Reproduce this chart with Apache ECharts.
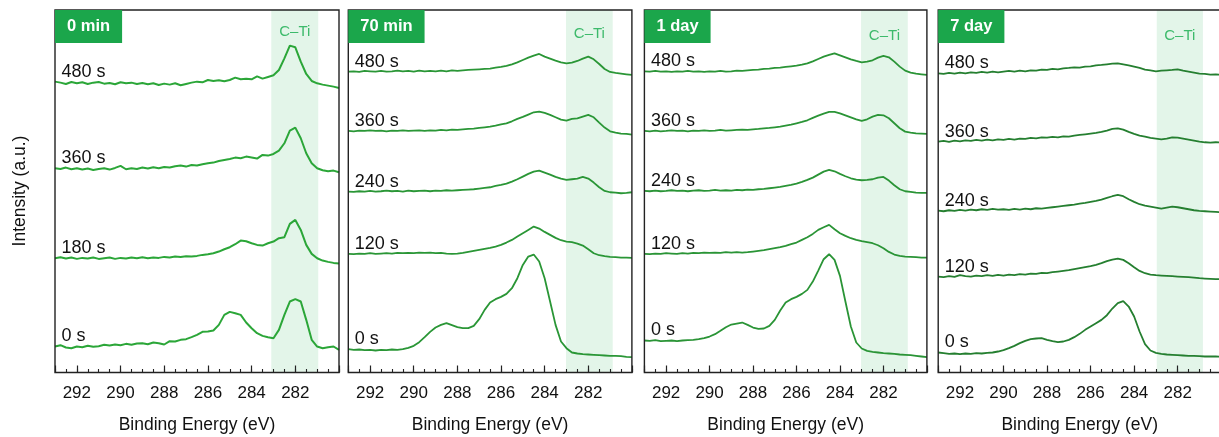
<!DOCTYPE html>
<html>
<head>
<meta charset="utf-8">
<title>C 1s XPS depth profiles</title>
<script src="https://cdn.jsdelivr.net/npm/echarts@6/dist/echarts.min.js"></script>
<style>
  html, body { margin: 0; padding: 0; background: #fff; }
  #chart { width: 1219px; height: 437px; }
</style>
</head>
<body>
<div id="chart"></div>
<script>
// Binding energy grid (eV), shared by every spectrum
const energy = [293, 292.75, 292.5, 292.25, 292, 291.75, 291.5, 291.25, 291, 290.75, 290.5, 290.25, 290,
  289.75, 289.5, 289.25, 289, 288.75, 288.5, 288.25, 288, 287.75, 287.5, 287.25, 287, 286.75, 286.5, 286.25,
  286, 285.75, 285.5, 285.25, 285, 284.75, 284.5, 284.25, 284, 283.75, 283.5, 283.25, 283, 282.75, 282.5,
  282.25, 282, 281.75, 281.5, 281.25, 281, 280.75, 280.5, 280.25, 280];

// Panel titles and sputter-time labels
const panelTitles = ['0 min', '70 min', '1 day', '7 day'];
const sputter0 = ['480 s', '360 s', '180 s', '0 s'];
const sputterN = ['480 s', '360 s', '240 s', '120 s', '0 s'];
const xTicks = [292, 290, 288, 286, 284, 282];
const bandLabel = 'C–Ti';
const bandFrom = [283.1, 283.02, 283.03, 282.96];
const bandTo = [280.95, 280.88, 280.88, 280.84];

// Stacked intensities (a.u.) — 0 min
const min0_480 = [873,870,866,872,868,871,866,870,872,867,869,865,871,868,870,866,869,865,868,863,867,864,868,862,866,870,873,871,878,875,877,874,878,885,880,882,880,889,882,887,892,908,943,981,976,933,896,875,868,864,861,858,854];
const min0_360 = [613,611,615,610,613,609,612,608,611,613,609,614,620,610,613,611,615,612,616,613,617,615,619,621,618,623,621,625,628,630,635,638,641,645,643,648,645,642,653,651,656,666,688,726,735,703,658,628,613,607,604,606,601];
const min0_180 = [343,346,342,345,341,344,342,345,341,343,345,341,344,342,345,343,346,343,345,344,347,345,348,347,349,348,350,353,355,358,363,370,376,385,396,394,388,383,381,388,393,403,406,446,458,428,383,356,343,336,332,329,327];
const min0_0 = [78,82,75,73,78,76,80,77,79,83,81,84,82,86,83,87,88,85,90,88,84,94,93,98,100,106,113,122,123,126,143,173,182,178,173,150,133,118,110,106,103,128,173,213,220,213,158,98,78,73,76,78,68];

// 70 min
const min70_480 = [903,904,902,905,904,903,905,903,904,906,904,905,903,906,904,905,904,906,904,907,905,907,908,909,910,911,912,915,917,920,925,931,938,945,951,956,948,942,936,931,928,930,935,942,948,940,926,911,902,899,897,895,893];
const min70_360 = [725,724,726,725,727,725,726,724,726,725,727,725,726,727,725,727,726,728,727,729,728,730,731,732,734,736,738,741,745,748,754,761,767,774,781,783,779,773,766,759,756,761,763,768,773,766,750,735,724,720,717,716,714];
const min70_240 = [543,542,544,543,545,543,544,546,544,545,543,546,544,545,546,544,546,545,547,546,547,548,549,550,552,554,556,560,563,567,573,580,588,596,603,606,600,594,587,582,578,580,582,587,582,570,556,545,541,540,538,539,541];
const min70_120 = [356,355,357,356,358,356,357,358,357,359,358,359,358,360,359,360,358,359,357,356,357,359,362,365,368,371,374,378,383,390,398,408,418,428,438,432,422,413,404,397,393,391,387,381,370,358,352,349,347,346,345,345,344];
const min70_0 = [70,68,69,67,68,66,68,67,69,68,70,74,80,91,106,122,135,143,148,142,136,133,133,140,160,188,210,220,227,236,253,283,323,348,354,333,283,213,143,93,73,60,57,55,54,53,52,51,50,50,49,47,46];

// 1 day
const day1_480 = [904,903,905,903,904,902,904,903,905,903,904,902,904,903,905,903,904,906,905,907,908,909,911,912,914,915,917,919,921,924,928,934,941,948,953,958,952,946,940,935,931,933,937,945,950,946,933,918,906,900,897,895,893];
const day1_360 = [725,724,726,724,725,727,725,726,724,726,725,727,725,726,728,726,727,728,729,728,730,731,733,734,736,738,741,744,748,752,757,764,771,777,782,782,778,772,766,760,755,760,768,773,772,763,748,733,723,720,718,717,716];
const day1_240 = [545,544,546,544,545,547,545,546,544,546,547,545,546,548,546,547,546,548,547,549,548,550,551,553,555,557,560,563,567,572,578,585,594,603,608,604,596,589,583,579,577,578,580,585,587,576,562,550,544,542,540,539,539];
const day1_120 = [356,355,357,356,358,357,356,358,357,359,358,360,359,360,359,361,360,361,360,361,363,365,367,370,373,376,380,385,390,398,406,416,428,436,443,430,418,410,403,398,394,391,388,382,373,362,354,350,348,347,346,345,345];
const day1_0 = [96,95,97,94,95,96,94,96,97,98,100,103,108,115,125,136,144,147,150,143,135,131,132,140,158,186,210,220,227,236,248,273,306,340,355,338,290,213,138,90,72,65,62,60,58,57,56,54,53,52,50,48,46];

// 7 day
const day7_480 = [898,896,899,897,900,898,901,899,902,900,903,901,903,905,903,906,904,907,906,909,908,911,910,913,914,916,915,918,919,922,923,925,927,928,925,922,918,914,909,907,904,906,907,908,910,906,903,900,897,896,894,895,893];
const day7_360 = [693,695,692,696,694,697,695,698,696,699,697,700,698,701,699,702,701,704,703,706,705,707,706,709,708,711,713,715,717,719,722,726,731,733,729,722,716,711,708,704,702,700,702,706,705,702,699,696,693,691,690,691,690];
const day7_240 = [486,484,487,485,488,486,489,487,490,488,491,489,490,488,491,489,492,490,493,492,494,496,498,500,502,504,507,509,512,515,519,524,529,533,529,520,512,505,501,498,495,492,495,498,496,493,490,487,485,484,483,482,481];
const day7_120 = [288,286,289,287,292,289,288,291,289,292,290,293,291,294,292,295,294,297,296,299,298,301,303,305,307,310,313,316,319,323,328,334,339,342,338,328,316,305,298,294,292,291,290,289,288,287,286,285,283,282,281,280,280];
const day7_0 = [60,58,56,57,55,57,56,58,57,59,60,63,67,73,80,88,95,100,102,103,98,94,91,93,98,106,116,128,138,148,158,172,192,208,214,198,168,123,85,66,59,56,54,53,52,51,50,50,49,48,48,48,47];

const panelData = [
  [min0_480, min0_360, min0_180, min0_0],
  [min70_480, min70_360, min70_240, min70_120, min70_0],
  [day1_480, day1_360, day1_240, day1_120, day1_0],
  [day7_480, day7_360, day7_240, day7_120, day7_0]
];
const panelLabels = [sputter0, sputterN, sputterN, sputterN];

// ---- layout & style ----
const FONT = "'Liberation Sans', Arial, Helvetica, sans-serif";
const gridBoxes = [
  { left: 55, width: 284 },
  { left: 348.3, width: 283.6 },
  { left: 644.4, width: 282.5 },
  { left: 938.2, width: 283 }
];
const lineColors = ['#2ba638', '#2a9636', '#2a9436', '#257f30'];
const lineWidths = [2, 1.8, 1.8, 1.8];
const bandLabelGap = [14, 16, 18, 18];

const chart = echarts.init(document.getElementById('chart'), null, { renderer: 'canvas' });

const grids = [], xAxes = [], yAxes = [], series = [], titles = [];

gridBoxes.forEach((g, p) => {
  grids.push({
    left: g.left, width: g.width, top: 10, height: 362.5,
    outerBoundsMode: 'none', containLabel: false,
    show: true, borderColor: '#222', borderWidth: 1.4, backgroundColor: 'transparent', z: 4
  });
  // major ticks, labels and axis name
  xAxes.push({
    type: 'value', gridIndex: p, position: 'bottom', inverse: true,
    min: 280, max: 293, interval: 2, z: 4,
    axisLine: { show: false },
    axisTick: { show: true, inside: true, length: 7, lineStyle: { color: '#222', width: 1.2 } },
    splitLine: { show: false },
    axisLabel: {
      margin: 12, color: '#111', fontSize: 17, fontFamily: FONT,
      formatter: v => (xTicks.indexOf(v) >= 0 ? String(v) : '')
    },
    name: 'Binding Energy (eV)', nameLocation: 'middle', nameGap: 44,
    nameTextStyle: { color: '#111', fontSize: 17.5, fontFamily: FONT }
  });
  // half-eV minor ticks
  xAxes.push({
    type: 'value', gridIndex: p, position: 'bottom', inverse: true,
    min: 280, max: 293, interval: 0.5, z: 4,
    axisLine: { show: false },
    axisTick: { show: true, inside: true, length: 3.5, lineStyle: { color: '#222', width: 1.1 } },
    splitLine: { show: false },
    axisLabel: { show: false }
  });
  yAxes.push({ type: 'value', gridIndex: p, min: 0, max: 1088, show: false });

  titles.push({
    text: panelTitles[p], left: g.left, top: 10,
    backgroundColor: '#1ba64b', padding: [8, 12, 8, 12],
    textStyle: { color: '#fff', fontWeight: 'bold', fontSize: 16.5, lineHeight: 17, fontFamily: FONT }
  });

  panelData[p].forEach((vals, k) => {
    const s = {
      type: 'line', name: panelTitles[p] + ' ' + panelLabels[p][k],
      xAxisIndex: p * 2, yAxisIndex: p,
      data: energy.map((e, i) => [e, vals[i]]),
      showSymbol: false, silent: true, z: 3,
      lineStyle: { color: lineColors[p], width: lineWidths[p] },
      markPoint: {
        symbol: 'circle', symbolSize: 0, silent: true,
        itemStyle: { color: 'transparent' },
        label: {
          show: true, position: 'right', distance: 6.5, offset: [0, -10],
          formatter: panelLabels[p][k], color: '#111', fontSize: 18, fontFamily: FONT
        },
        data: [{ coord: [energy[0], vals[0]] }]
      }
    };
    if (k === 0) {
      s.markArea = {
        silent: true,
        itemStyle: { color: '#e3f5e9' },
        label: {
          show: true, position: 'insideTop', distance: bandLabelGap[p],
          formatter: bandLabel, color: '#3dba6b', fontSize: 15, fontFamily: FONT
        },
        data: [[{ xAxis: bandFrom[p] }, { xAxis: bandTo[p] }]]
      };
    }
    series.push(s);
  });
});

chart.setOption({
  animation: false,
  backgroundColor: '#fff',
  title: titles,
  grid: grids,
  xAxis: xAxes,
  yAxis: yAxes,
  series: series,
  graphic: [{
    type: 'text', x: 20, y: 191, rotation: Math.PI / 2,
    style: {
      text: 'Intensity (a.u.)', align: 'center', verticalAlign: 'middle',
      fill: '#111', fontSize: 17.5, fontFamily: FONT
    }
  }]
});
</script>
</body>
</html>
